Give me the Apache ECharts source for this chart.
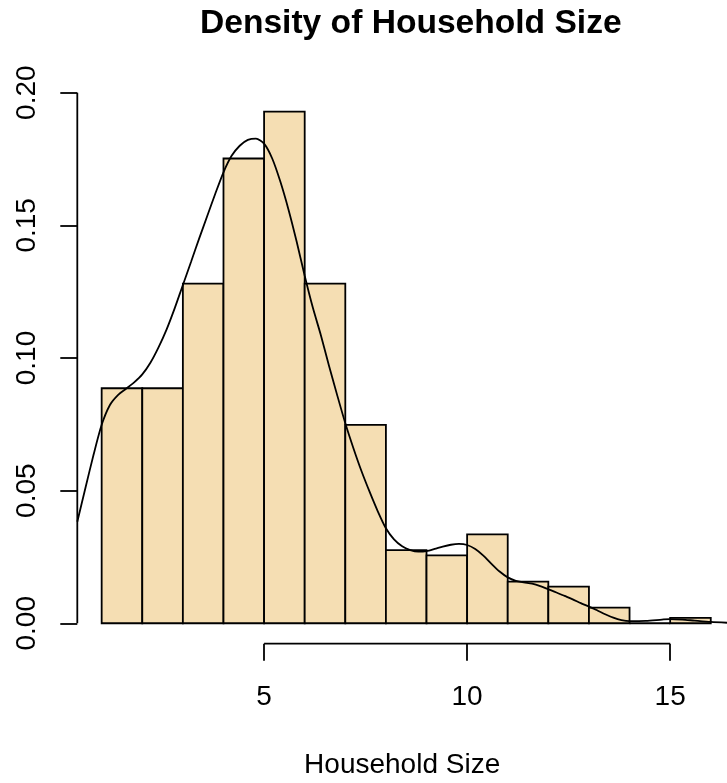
<!DOCTYPE html>
<html>
<head>
<meta charset="utf-8">
<title>Density of Household Size</title>
<script src="https://cdn.jsdelivr.net/npm/echarts@6/dist/echarts.min.js"></script>
<style>
  html, body { margin: 0; padding: 0; background: #ffffff; }
  #chart { width: 727px; height: 783px; }
</style>
</head>
<body>
<div id="chart"></div>
<script>
// Histogram bins (household size, unit-width breaks 1..16)
const binStart = [1, 2, 3, 4, 5, 6, 7, 8, 9, 10, 11, 12, 13, 14, 15];
const binEnd   = [2, 3, 4, 5, 6, 7, 8, 9, 10, 11, 12, 13, 14, 15, 16];
// Density of each bin
const binDensity = [0.0886, 0.0886, 0.1280, 0.1752, 0.1929, 0.1280, 0.0748,
                    0.0276, 0.0256, 0.0335, 0.0157, 0.0138, 0.0059, 0.0000, 0.0020];

// Kernel density estimate
const kdeX = [0.40, 0.60, 0.80, 1.00, 1.20, 1.40, 1.60, 1.80, 2.00, 2.20, 2.40, 2.60,
              2.80, 2.97, 3.20, 3.40, 3.60, 3.80, 4.00, 4.20, 4.40, 4.60, 4.80, 5.00,
              5.20, 5.40, 5.60, 5.80, 6.00, 6.20, 6.40, 6.60, 6.80, 7.00, 7.20, 7.40,
              7.60, 7.80, 8.00, 8.20, 8.40, 8.60, 8.80, 9.00, 9.20, 9.40, 9.60, 9.80,
              10.00, 10.20, 10.40, 10.60, 10.80, 11.00, 11.20, 11.40, 11.60, 11.80, 12.00, 12.20,
              12.40, 12.60, 12.80, 13.00, 13.20, 13.40, 13.60, 13.80, 14.00, 14.40, 14.80, 15.00,
              15.30, 15.60, 16.00, 16.40];
const kdeY = [0.0383, 0.0510, 0.0635, 0.0748, 0.0822, 0.0860, 0.0884, 0.0908, 0.0938, 0.0982, 0.1040, 0.1108,
              0.1188, 0.1262, 0.1362, 0.1450, 0.1535, 0.1620, 0.1700, 0.1762, 0.1800, 0.1822, 0.1827, 0.1808,
              0.1752, 0.1665, 0.1560, 0.1440, 0.1310, 0.1190, 0.1085, 0.0970, 0.0860, 0.0754, 0.0660, 0.0573,
              0.0495, 0.0422, 0.0358, 0.0316, 0.0290, 0.0276, 0.0270, 0.0272, 0.0280, 0.0289, 0.0296, 0.0299,
              0.0295, 0.0280, 0.0255, 0.0224, 0.0195, 0.0173, 0.0160, 0.0154, 0.0149, 0.0140, 0.0128, 0.0116,
              0.0103, 0.0090, 0.0076, 0.0063, 0.0049, 0.0034, 0.0021, 0.0012, 0.0008, 0.0009, 0.0014, 0.0016,
              0.0014, 0.0010, 0.0005, 0.0002];

// Axis ticks
const xTicks = [5, 10, 15];
const yTicks = [0, 0.05, 0.10, 0.15, 0.20];

// Visible plot ranges
const xRange = [0.4, 16.4];
const yRange = [-0.0077, 0.2006];

const FONT = "'Liberation Sans', Arial, Helvetica, sans-serif";
const LW = 1.8;

const chart = echarts.init(document.getElementById('chart'), null, { renderer: 'canvas' });

const barData = binStart.map((s, i) => [s, binEnd[i], binDensity[i]]);
const kdeData = kdeX.map((x, i) => [x, kdeY[i]]);
// axis lines spanning first to last tick
const axisSpans = [
  ['x', xTicks[0], xTicks[xTicks.length - 1]],
  ['y', yTicks[0], yTicks[yTicks.length - 1]]
];

chart.setOption({
  animation: false,
  backgroundColor: '#ffffff',
  title: {
    text: 'Density of Household Size',
    left: 195,
    top: 2,
    textStyle: { fontFamily: FONT, fontSize: 33.6, fontWeight: 'bold', color: '#000' }
  },
  grid: { left: 77.3, top: 91.1, right: 0, height: 552.6, containLabel: false, outerBoundsMode: 'none' },
  xAxis: {
    type: 'value',
    min: xRange[0],
    max: xRange[1],
    axisLine: { show: false, onZero: false },
    splitLine: { show: false },
    axisTick: {
      show: true,
      customValues: xTicks,
      length: 17,
      lineStyle: { color: '#000', width: LW }
    },
    axisLabel: {
      customValues: xTicks,
      margin: 40,
      fontFamily: FONT,
      fontSize: 28,
      color: '#000'
    },
    name: 'Household Size',
    nameLocation: 'middle',
    nameGap: 108,
    nameTextStyle: { fontFamily: FONT, fontSize: 28, color: '#000' }
  },
  yAxis: {
    type: 'value',
    min: yRange[0],
    max: yRange[1],
    axisLine: { show: false, onZero: false },
    splitLine: { show: false },
    axisTick: {
      show: true,
      customValues: yTicks,
      length: 17,
      lineStyle: { color: '#000', width: LW }
    },
    axisLabel: {
      customValues: yTicks,
      rotate: 90,
      margin: 36,
      fontFamily: FONT,
      fontSize: 28,
      color: '#000',
      formatter: v => v.toFixed(2)
    }
  },
  series: [
    {
      name: 'histogram',
      type: 'custom',
      data: barData,
      encode: { x: [0, 1], y: 2 },
      renderItem: (params, api) => {
        const p0 = api.coord([api.value(0), api.value(2)]);
        const p1 = api.coord([api.value(1), 0]);
        return {
          type: 'rect',
          shape: { x: p0[0], y: p0[1], width: p1[0] - p0[0], height: p1[1] - p0[1] },
          style: { fill: '#F5DEB3', stroke: '#000', lineWidth: LW }
        };
      },
      z: 2
    },
    {
      name: 'density',
      type: 'line',
      data: kdeData,
      smooth: 0.25,
      showSymbol: false,
      symbol: 'none',
      lineStyle: { color: '#000', width: LW },
      clip: true,
      z: 3
    },
    {
      name: 'axes',
      type: 'custom',
      data: axisSpans,
      clip: false,
      silent: true,
      renderItem: (params, api) => {
        const d = axisSpans[params.dataIndex];
        let a, b;
        if (d[0] === 'x') {
          a = api.coord([d[1], yRange[0]]);
          b = api.coord([d[2], yRange[0]]);
        } else {
          a = api.coord([xRange[0], d[1]]);
          b = api.coord([xRange[0], d[2]]);
        }
        return {
          type: 'line',
          shape: { x1: a[0], y1: a[1], x2: b[0], y2: b[1] },
          style: { stroke: '#000', lineWidth: LW }
        };
      },
      z: 4
    }
  ]
});
</script>
</body>
</html>
